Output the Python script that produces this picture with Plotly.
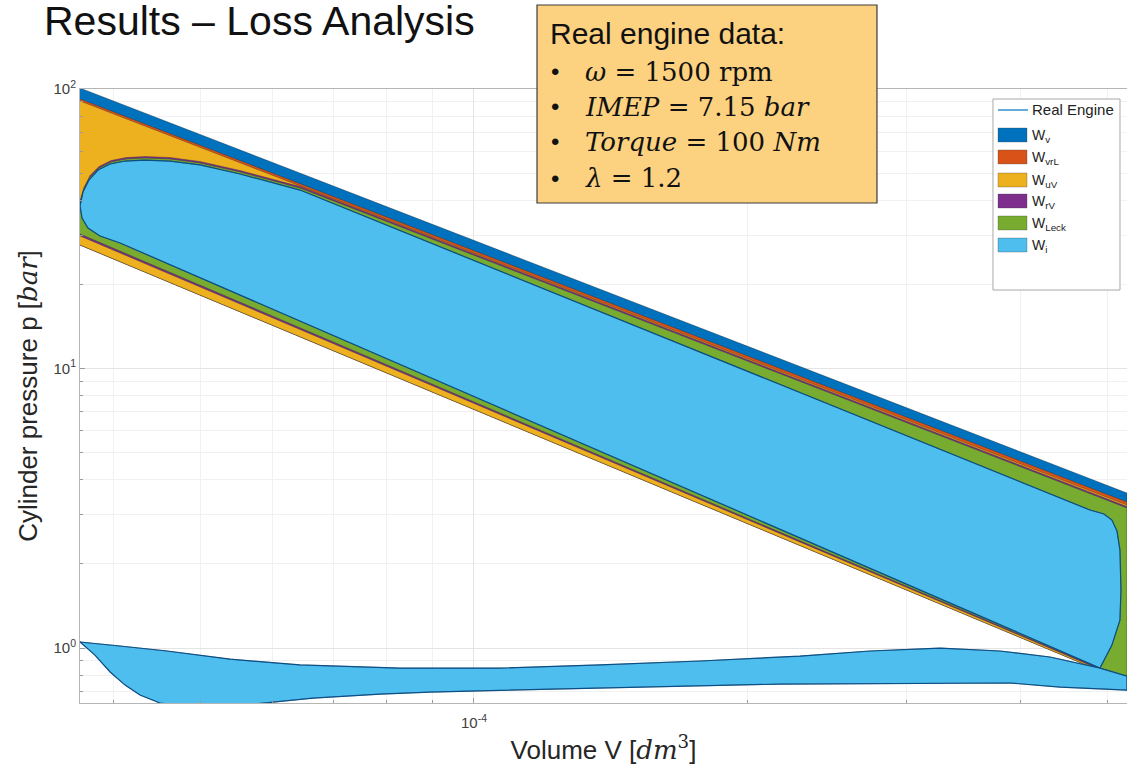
import math
import plotly.graph_objects as go

# ---- axis limits (volume in dm^3, pressure in bar) ----
V_MIN, V_MAX = 3.678e-5, 5.248e-4
P_MIN, P_MAX = 0.636, 100.0

# ---- loss loops, each a closed p-V contour ----
wv_V = [3.678e-5, 5.248e-4, 5.248e-4, 3.678e-5]
wv_p = [100.8, 3.586, 0.756, 27.67]

wvrl_V = [3.678e-5, 5.248e-4, 5.248e-4, 3.678e-5]
wvrl_p = [92.1, 3.330, 0.756, 27.67]

wuv_V = [3.678e-5, 5.248e-4, 5.248e-4, 3.678e-5]
wuv_p = [90.6, 3.248, 0.756, 27.67]

wrv_V = [3.678e-5, 3.715e-5, 3.773e-5, 3.860e-5, 3.980e-5, 4.134e-5, 4.338e-5,
         4.622e-5, 4.988e-5, 5.521e-5, 6.430e-5, 5.248e-4, 5.248e-4, 3.678e-5]
wrv_p = [39.75, 44.41, 49.03, 52.81, 55.49, 56.88, 57.35,
         56.88, 55.03, 51.10, 44.78, 3.209, 0.762, 29.8]

wleck_V = [3.678e-5, 3.715e-5, 3.773e-5, 3.860e-5, 3.980e-5, 4.134e-5, 4.338e-5,
           4.622e-5, 4.988e-5, 5.521e-5, 6.430e-5, 5.248e-4, 5.248e-4, 3.678e-5]
wleck_p = [39.09, 43.86, 48.43, 52.2, 54.81, 56.18, 56.6,
           56.18, 54.35, 50.47, 44.25, 3.169, 0.768, 30.28]

# ---- real engine cycle ----
expansion_V = [3.678e-5, 3.706e-5, 3.763e-5, 3.850e-5, 3.970e-5, 4.124e-5, 4.338e-5,
               4.622e-5, 4.988e-5, 5.521e-5, 6.430e-5, 4.778e-4, 4.950e-4, 5.051e-4,
               5.116e-4, 5.155e-4, 5.168e-4, 5.155e-4, 5.051e-4, 4.900e-4]
expansion_p = [38.15, 42.8, 47.25, 51.3, 53.9, 55.25, 55.7,
               55.25, 53.5, 49.65, 43.5, 3.117, 3.016, 2.871,
               2.622, 2.242, 1.612, 1.259, 1.025, 0.848]

exhaust_V = [4.316e-4, 3.801e-4, 3.265e-4, 2.733e-4, 2.288e-4, 1.775e-4, 1.377e-4,
             1.068e-4, 8.288e-5, 6.430e-5, 5.383e-5, 4.587e-5, 4.072e-5, 3.678e-5]
exhaust_p = [0.929, 0.976, 1.000, 0.976, 0.936, 0.899, 0.870,
             0.848, 0.848, 0.870, 0.913, 0.976, 1.017, 1.051]

intake_V = [3.820e-5, 3.970e-5, 4.124e-5, 4.283e-5, 4.506e-5, 4.988e-5, 5.706e-5,
            6.645e-5, 7.878e-5, 8.945e-5, 1.366e-4, 2.175e-4, 3.899e-4, 4.427e-4, 5.248e-4]
intake_p = [0.944, 0.821, 0.737, 0.679, 0.636, 0.610, 0.630,
            0.662, 0.684, 0.696, 0.719, 0.743, 0.750, 0.725, 0.707]

compression_V = [5.248e-4, 4.900e-4, 4.072e-5, 3.870e-5, 3.753e-5, 3.697e-5, 3.678e-5]
compression_p = [0.794, 0.848, 28.12, 29.8, 31.82, 34.55, 38.15]

real_V = expansion_V + exhaust_V + intake_V + compression_V
real_p = expansion_p + exhaust_p + intake_p + compression_p

# ---- tick labels ----
x_major = [1e-4]
x_major_text = ["10<sup>-4</sup>"]
x_minor = [4e-5, 5e-5, 6e-5, 7e-5, 8e-5, 9e-5, 2e-4, 3e-4, 4e-4, 5e-4]
y_major = [1, 10, 100]
y_major_text = ["10<sup>0</sup>", "10<sup>1</sup>", "10<sup>2</sup>"]
y_minor = [0.7, 0.8, 0.9, 2, 3, 4, 5, 6, 7, 8, 9, 20, 30, 40, 50, 60, 70, 80, 90]

# ---- legend entries ----
legend_names = ["W<sub>v</sub>", "W<sub>vrL</sub>", "W<sub>uV</sub>",
                "W<sub>rV</sub>", "W<sub>Leck</sub>", "W<sub>i</sub>"]
legend_colors = ["#0072BD", "#D95319", "#EDB120", "#7E2F8E", "#77AC30", "#4DBEEE"]

SANS = "Liberation Sans, Arial, Helvetica, sans-serif"
SERIF = "DejaVu Serif, Liberation Serif, serif"
EDGE = "rgba(30,30,30,0.55)"

fig = go.Figure()

loops = [
    (wv_V, wv_p), (wvrl_V, wvrl_p), (wuv_V, wuv_p),
    (wrv_V, wrv_p), (wleck_V, wleck_p), (real_V, real_p),
]
for (vx, py), name, col in zip(loops, legend_names, legend_colors):
    fig.add_trace(go.Scatter(
        x=vx, y=py, mode="lines", fill="toself", fillcolor=col,
        line=dict(color=EDGE, width=0.6),
        name=name, showlegend=False, hoverinfo="skip"))

fig.add_trace(go.Scatter(
    x=real_V, y=real_p, mode="lines",
    line=dict(color="#0b4f86", width=1.2),
    name="Real Engine", showlegend=False, hoverinfo="skip"))

axis_common = dict(
    type="log", showline=True, linecolor="#b5b5b5", linewidth=1,
    ticks="inside", ticklen=5, tickcolor="#9a9a9a",
    showgrid=True, gridcolor="#e4e4e4", gridwidth=1, zeroline=False,
    tickfont=dict(family=SANS, size=15, color="#404040"),
)

fig.update_xaxes(
    **axis_common,
    range=[math.log10(V_MIN), math.log10(V_MAX)],
    tickmode="array", tickvals=x_major, ticktext=x_major_text, mirror=True,
    ticklabelstandoff=6,
    minor=dict(tickmode="array", tickvals=x_minor, ticks="inside", ticklen=3,
               tickcolor="#9a9a9a", showgrid=True, gridcolor="#f1f1f1"),
    title=dict(text="Volume V [<span style='font-family:DejaVu Serif'><i>dm</i><sup>3</sup></span>]",
               font=dict(family=SANS, size=26, color="#262626"), standoff=10),
)
fig.update_yaxes(
    **axis_common,
    range=[math.log10(P_MIN), math.log10(P_MAX)],
    tickmode="array", tickvals=y_major, ticktext=y_major_text,
    minor=dict(tickmode="array", tickvals=y_minor, ticks="inside", ticklen=3,
               tickcolor="#9a9a9a", showgrid=True, gridcolor="#f1f1f1"),
    title=dict(text="Cylinder pressure p [<span style='font-family:DejaVu Serif'><i>bar</i></span>]",
               font=dict(family=SANS, size=26, color="#262626"), standoff=8),
)

shapes = []
# info box
shapes.append(dict(type="rect", xref="paper", yref="paper",
                   x0=0.4365, x1=0.7612, y0=0.8143, y1=1.1368,
                   fillcolor="#FCD280", line=dict(color="#3a3a3a", width=1.2), layer="above"))
# legend box
shapes.append(dict(type="rect", xref="paper", yref="paper",
                   x0=0.8720, x1=0.9933, y0=0.6726, y1=0.9837,
                   fillcolor="white", line=dict(color="#a8a8a8", width=1), layer="above"))
shapes.append(dict(type="line", xref="paper", yref="paper",
                   x0=0.8768, x1=0.9054, y0=0.9658, y1=0.9658,
                   line=dict(color="#0072BD", width=1.2), layer="above"))
legend_rows = [0.9251, 0.8893, 0.8518, 0.8176, 0.7818, 0.7459]
for yc, col in zip(legend_rows, legend_colors):
    shapes.append(dict(type="rect", xref="paper", yref="paper",
                       x0=0.8768, x1=0.9045, y0=yc - 0.0114, y1=yc + 0.0114,
                       fillcolor=col, line=dict(color="rgba(60,60,60,0.5)", width=0.6),
                       layer="above"))

annotations = [
    dict(text="Results – Loss Analysis", x=-0.0363, y=1.110, xanchor="left", yanchor="middle",
         font=dict(family=SANS, size=41, color="#111111")),
    dict(text="Real engine data:", x=0.4470, y=1.0912, xanchor="left", yanchor="middle",
         font=dict(family=SANS, size=30, color="#111111")),
    dict(text="Real Engine", x=0.9074, y=0.9658, xanchor="left", yanchor="middle",
         font=dict(family=SANS, size=15, color="#222222")),
]
for yc, name in zip(legend_rows, legend_names):
    annotations.append(dict(text=name, x=0.9074, y=yc - 0.002, xanchor="left", yanchor="middle",
                            font=dict(family=SANS, size=14, color="#222222")))

bullet_lines = [
    ("<i>ω</i> = 1500 rpm", 1.0277),
    ("<i>IMEP</i> = 7.15 <i>bar</i>", 0.9707),
    ("<i>Torque</i> = 100 <i>Nm</i>", 0.9137),
    ("<i>λ</i> = 1.2", 0.8550),
]
for txt, yy in bullet_lines:
    annotations.append(dict(text="•", x=0.4480, y=yy, xanchor="left", yanchor="middle",
                            font=dict(family=SANS, size=24, color="#111111")))
    annotations.append(dict(text=txt, x=0.4804, y=yy, xanchor="left", yanchor="middle",
                            font=dict(family=SERIF, size=26, color="#111111")))
for a in annotations:
    a.update(xref="paper", yref="paper", showarrow=False)

fig.update_layout(
    width=1127, height=769,
    margin=dict(l=80, r=0, t=89, b=66),
    plot_bgcolor="white", paper_bgcolor="white",
    showlegend=False,
    shapes=shapes, annotations=annotations,
)

fig.write_html("out.html")
